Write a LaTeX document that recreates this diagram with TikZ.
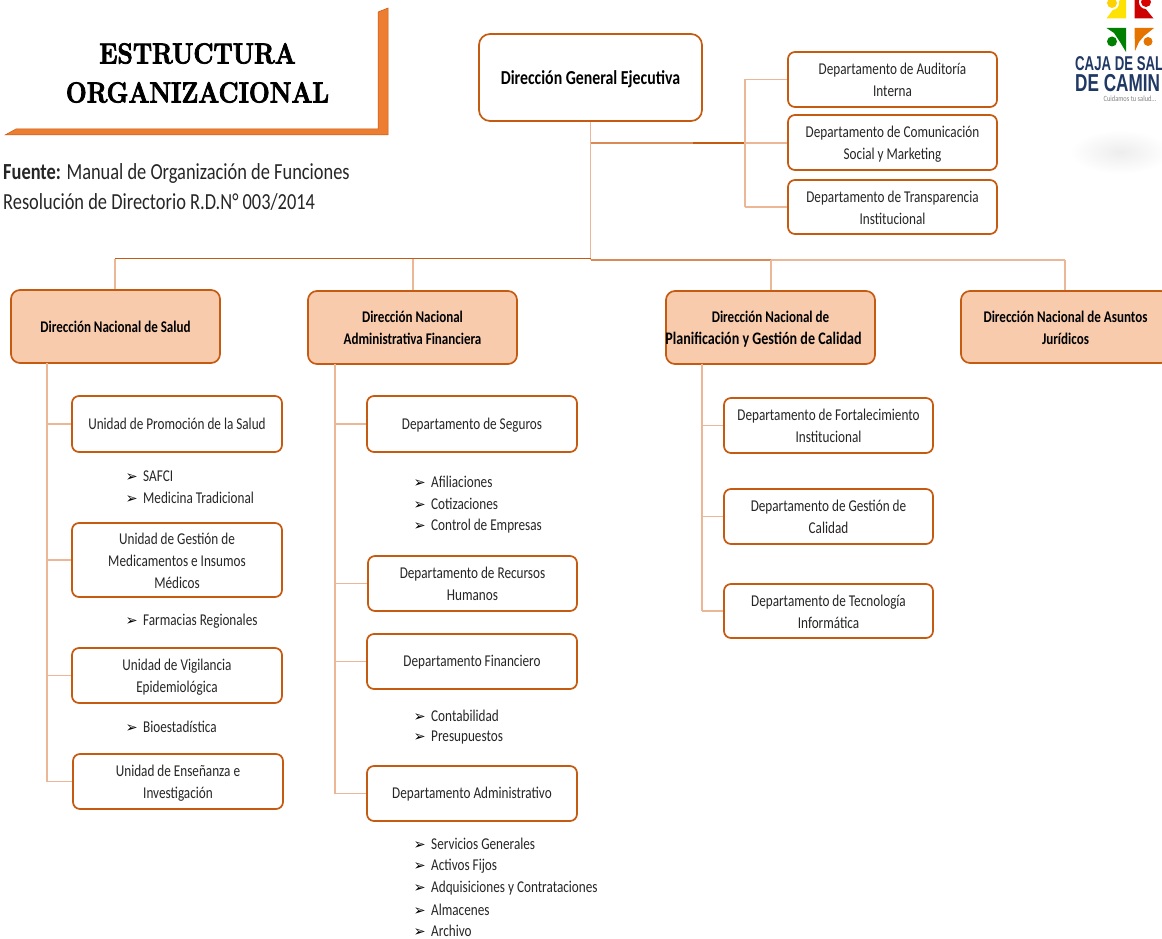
\documentclass[tikz,border=0pt]{standalone}
\usepackage{fontspec}
\setmainfont{Carlito}[FakeStretch=0.8]
\newfontfamily\bul{DejaVu Sans}
\newfontfamily\logofa{Liberation Sans}[FakeStretch=0.66]
\newfontfamily\logofb{Liberation Sans}[FakeStretch=0.70]
\newfontfamily\titlef{Latin Modern Roman}[BoldFeatures={FakeBold=2.6,FakeStretch=0.85}]
\definecolor{bord}{HTML}{C55A11}
\definecolor{linec}{HTML}{EBB796}
\definecolor{lined}{HTML}{D98A56}
\definecolor{fillc}{HTML}{F8CBAD}
\definecolor{orangec}{HTML}{ED7D31}
\definecolor{txt}{HTML}{262626}
\definecolor{navy}{HTML}{1F3864}
\tikzset{
  boxw/.style={draw=bord,line width=1.7pt,rounded corners=7pt,fill=white,align=center,text=txt,font=\fontsize{16.5}{22}\selectfont,inner sep=0pt},
  boxo/.style={boxw,fill=fillc,text=black,font=\fontsize{16.3}{22}\selectfont\bfseries,rounded corners=9pt},
  conn/.style={draw=linec,line width=1.4pt},
  conn2/.style={draw=lined,line width=1.2pt},
  conn3/.style={draw=bord,line width=1.1pt},
  sub/.style={anchor=west,text=txt,font=\fontsize{16.5}{18}\selectfont,inner sep=0pt},
}
\newcommand{\arrowb}{\makebox[17.5pt][l]{\bul\fontsize{14.5}{14}\selectfont\color{black}➢}}
\newcommand{\boxdrop}{2pt}
\newcommand{\mybox}[7]{\node[#2,minimum width=#5pt-#3pt,minimum height=#6pt-#4pt] (#1) at ({(#3+#5)/2},{(#4+#6)/2}) {\raisebox{-\boxdrop}[\height][\depth]{\begin{tabular}{@{}c@{}}#7\end{tabular}}};}
\begin{document}
\begin{tikzpicture}[x=1pt,y=-1pt]
\useasboundingbox (0,0) rectangle (1162,939);
% title
\fill[orangec,draw=bord,line width=.5pt] (388,8) -- (388,135) -- (5,135) -- (16,129) -- (378,129) -- (378,12) -- cycle;
\node[align=center,inner sep=0pt,font=\titlef\bfseries\fontsize{29}{39}\selectfont] (title) at (197.5,73) {ESTRUCTURA\\ORGANIZACIONAL};
\node[anchor=north west,align=left,inner sep=0pt,text=txt,font=\fontsize{23}{30}\selectfont] (src) at (3,163) {\textbf{Fuente:} Manual de Organización de Funciones\\Resolución de Directorio R.D.N° 003/2014};
% boxes
\renewcommand{\boxdrop}{3pt}
\mybox{dge}{boxw,text=black,font=\fontsize{19.8}{22}\selectfont\bfseries,rounded corners=11pt}{479}{34}{702}{121}{Dirección General Ejecutiva}
\renewcommand{\boxdrop}{2pt}
\mybox{aud}{boxw}{788}{52}{997}{107}{Departamento de Auditoría\\Interna}
\mybox{com}{boxw}{788}{115}{997}{170}{Departamento de Comunicación\\Social y Marketing}
\mybox{tra}{boxw}{788}{180}{997}{234}{Departamento de Transparencia\\Institucional}
\mybox{dsa}{boxo}{11}{290}{220}{363}{Dirección Nacional de Salud}
\mybox{daf}{boxo}{308}{291}{517}{364}{Dirección Nacional\\Administrativa Financiera}
\mybox{dpg}{boxo}{666}{291}{875}{364}{Dirección Nacional de\\\fontsize{17.6}{22}\selectfont\hspace*{-14pt}Planificación y Gestión de Calidad}
\mybox{dju}{boxo}{961}{291}{1170}{363}{Dirección Nacional de Asuntos\\Jurídicos}
\mybox{ges}{boxw}{72}{523}{282}{597}{Unidad de Gestión de\\Medicamentos e Insumos\\Médicos}
\mybox{vig}{boxw}{72}{648}{282}{703}{Unidad de Vigilancia\\Epidemiológica}
\mybox{ens}{boxw}{73}{754}{283}{809}{Unidad de Enseñanza e\\Investigación}
\mybox{rrh}{boxw}{368}{556}{577}{611}{Departamento de Recursos\\Humanos}
\mybox{fort}{boxw}{724}{398}{933}{453}{Departamento de Fortalecimiento\\Institucional}
\mybox{cal}{boxw}{724}{489}{933}{544}{Departamento de Gestión de\\Calidad}
\mybox{tec}{boxw}{724}{584}{933}{638}{Departamento de Tecnología\\Informática}
\renewcommand{\boxdrop}{1pt}
\mybox{ups}{boxw}{72}{396}{282}{452}{Unidad de Promoción de la Salud}
\mybox{seg}{boxw}{367}{396}{577}{452}{Departamento de Seguros}
\mybox{fin}{boxw}{367}{634}{577}{689}{Departamento Financiero}
\mybox{adm}{boxw}{367}{766}{577}{821}{Departamento Administrativo}
% junctions
\coordinate (j1) at (590.5,143);
\coordinate (jm) at (693,143);
\coordinate (j2) at (745,143);
\coordinate (j3) at (590.5,258.5);
\coordinate (j3r) at (590.5,260);
\coordinate (a1) at (115,258.5);
\coordinate (a2) at (413,258.5);
\coordinate (a3) at (771,260);
\coordinate (a4) at (1065,260);
\coordinate (sp1) at (47,363);
\coordinate (sp2) at (335,364);
\coordinate (sp3) at (702,364);
% connectors
\draw[conn] (dge.south -| j1) -- (j3r);
\draw[conn2] (j1) -- (jm);
\draw[conn3] (jm) -- (j2);
\draw[conn] (j2 |- aud.west) -- (j2 |- tra.west);
\draw[conn] (j2 |- aud.west) -- (aud.west);
\draw[conn] (j2) -- (com.west |- j2);
\draw[conn] (j2 |- tra.west) -- (tra.west);
\draw[conn3] (j3) -- (a1);
\draw[conn] (a1) -- (dsa.north -| a1);
\draw[conn] (a2) -- (daf.north -| a2);
\draw[conn2] (j3r) -- (a3);
\draw[conn] (a3) -- (a4);
\draw[conn] (a3) -- (dpg.north -| a3);
\draw[conn] (a4) -- (dju.north -| a4);
% spines
\draw[conn] (sp1) -- (sp1 |- ens.west);
\foreach \n in {ups,ges,vig,ens} \draw[conn] (sp1 |- \n.west) -- (\n.west);
\draw[conn] (sp2) -- (sp2 |- adm.west);
\foreach \n in {seg,rrh,fin,adm} \draw[conn] (sp2 |- \n.west) -- (\n.west);
\draw[conn] (sp3) -- (sp3 |- tec.west);
\foreach \n in {fort,cal,tec} \draw[conn] (sp3 |- \n.west) -- (\n.west);
% sub lists
\node[sub] (s1) at (125.5,476) {\arrowb SAFCI};
\node[sub] (s2) at (125.5,498) {\arrowb Medicina Tradicional};
\node[sub] (s3) at (125.5,621) {\arrowb Farmacias Regionales};
\node[sub] (s4) at (125.5,727) {\arrowb Bioestadística};
\node[sub] (s5) at (413.5,482) {\arrowb Afiliaciones};
\node[sub] (s6) at (413.5,504) {\arrowb Cotizaciones};
\node[sub] (s7) at (413.5,526) {\arrowb Control de Empresas};
\node[sub] (s8) at (413.5,716) {\arrowb Contabilidad};
\node[sub] (s9) at (413.5,738) {\arrowb Presupuestos};
\node[sub] (s10) at (413.5,844) {\arrowb Servicios Generales};
\node[sub] (s11) at (413.5,866) {\arrowb Activos Fijos};
\node[sub] (s12) at (413.5,888) {\arrowb Adquisiciones y Contrataciones};
\node[sub] (s13) at (413.5,910) {\arrowb Almacenes};
\node[sub] (s14) at (413.5,931) {\arrowb Archivo};
% logo
\fill[yellow!85!orange] (1106.5,18.5) -- (1126,18.5) -- (1126,0) -- (1120,0) -- cycle;
\fill[white] (1112,3) circle (7);
\fill[yellow!70!orange] (1112,3) circle (5);
\fill[red!80!black] (1134.5,0) -- (1134.5,18.5) -- (1153.5,18.5) -- (1145,8) -- (1139,0) -- cycle;
\fill[white] (1146,2) circle (7);
\fill[red!85!black] (1146,2) circle (5);
\fill[green!50!black] (1106.5,28) -- (1126,28) -- (1126,52) -- (1120,42) -- (1114,33) -- cycle;
\fill[green!50!black] (1112,41.5) circle (5);
\fill[orange!90!black] (1134.5,28) -- (1154,28) -- (1144,36) -- (1139,42) -- (1135,51) -- cycle;
\fill[orange!90!black] (1148,41.5) circle (4.5);
\node[anchor=west,inner sep=0pt,text=navy,font=\logofa\bfseries\fontsize{20}{20}\selectfont] (logoa) at (1075,63.5) {CAJA DE SAL};
\node[anchor=west,inner sep=0pt,text=navy,font=\logofb\bfseries\fontsize{24.5}{25}\selectfont] (logob) at (1075,83) {DE CAMIN};
\node[inner sep=0pt,text=gray,font=\fontsize{8}{8}\selectfont] (lema) at (1130,98.5) {Cuidamos tu salud...};
\shade[inner color=black!7,outer color=white,draw=none] (1120,152) ellipse (50 and 22);
\end{tikzpicture}
\end{document}
